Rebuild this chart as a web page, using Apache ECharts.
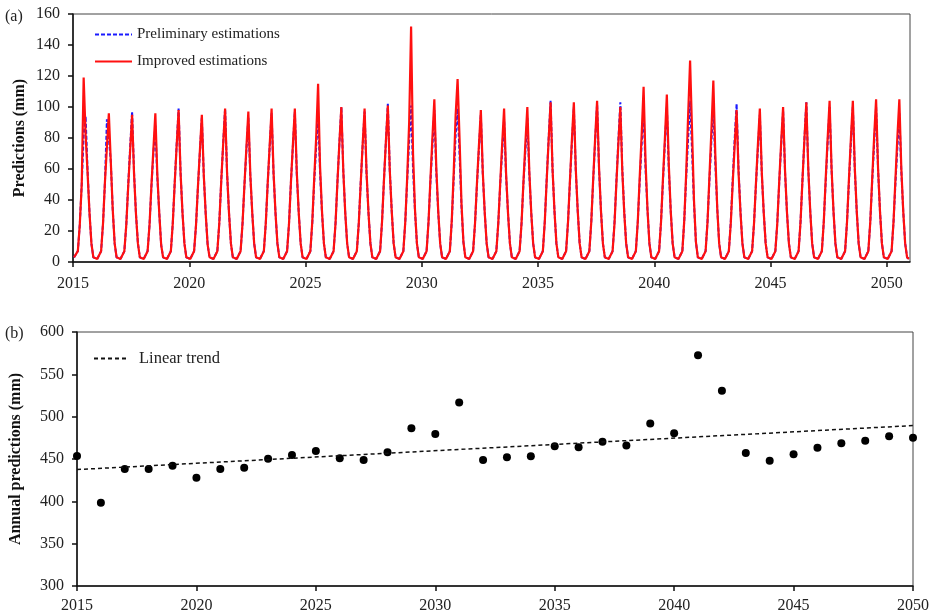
<!DOCTYPE html>
<html>
<head>
<meta charset="utf-8">
<script src="https://cdn.jsdelivr.net/npm/echarts@6/dist/echarts.min.js"></script>
<style>
  html, body { margin: 0; padding: 0; background: #fff; }
  #main { width: 934px; height: 616px; }
</style>
</head>
<body>
<div id="main"></div>
<script>
var years = [2015, 2016, 2017, 2018, 2019, 2020, 2021, 2022, 2023, 2024, 2025, 2026,
    2027, 2028, 2029, 2030, 2031, 2032, 2033, 2034, 2035, 2036, 2037, 2038,
    2039, 2040, 2041, 2042, 2043, 2044, 2045, 2046, 2047, 2048, 2049, 2050];
var xTicks = [2015, 2020, 2025, 2030, 2035, 2040, 2045, 2050];

// monthly values (Jan..Dec) per year
var improved = [
    [3, 3, 7, 24, 50, 119, 82, 58, 32, 12, 3, 2],
    [2, 3, 7, 25, 52, 74, 96, 65, 34, 12, 3, 2],
    [2, 3, 7, 24, 49, 72, 95, 57, 31, 12, 3, 2],
    [2, 3, 7, 24, 50, 73, 96, 57, 32, 11, 3, 2],
    [2, 3, 7, 25, 51, 75, 98, 58, 32, 12, 3, 2],
    [2, 3, 7, 24, 49, 72, 95, 56, 31, 11, 3, 2],
    [2, 3, 7, 25, 52, 76, 99, 58, 32, 12, 3, 2],
    [2, 3, 7, 25, 50, 74, 97, 57, 32, 12, 3, 2],
    [2, 3, 7, 25, 51, 75, 99, 58, 32, 12, 3, 2],
    [2, 3, 7, 25, 52, 76, 99, 58, 32, 12, 3, 2],
    [2, 3, 7, 26, 54, 80, 115, 62, 33, 12, 3, 2],
    [2, 3, 7, 25, 52, 77, 100, 59, 32, 12, 3, 2],
    [2, 3, 7, 25, 51, 76, 99, 58, 32, 12, 3, 2],
    [2, 3, 7, 26, 53, 78, 101, 59, 33, 12, 3, 2],
    [2, 3, 7, 26, 55, 90, 152, 70, 34, 12, 3, 2],
    [2, 3, 7, 26, 54, 80, 105, 61, 33, 12, 3, 2],
    [2, 3, 7, 27, 58, 95, 118, 80, 38, 13, 3, 2],
    [2, 3, 7, 25, 51, 75, 98, 58, 32, 12, 3, 2],
    [2, 3, 7, 25, 51, 76, 99, 58, 32, 12, 3, 2],
    [2, 3, 7, 25, 52, 77, 100, 59, 32, 12, 3, 2],
    [2, 3, 7, 26, 53, 79, 103, 60, 33, 12, 3, 2],
    [2, 3, 7, 26, 53, 79, 103, 60, 33, 12, 3, 2],
    [2, 3, 7, 26, 54, 80, 104, 61, 33, 12, 3, 2],
    [2, 3, 7, 25, 52, 77, 100, 59, 32, 12, 3, 2],
    [2, 3, 7, 26, 55, 82, 113, 65, 34, 12, 3, 2],
    [2, 3, 7, 26, 54, 80, 108, 63, 33, 12, 3, 2],
    [2, 3, 7, 27, 58, 95, 130, 85, 40, 13, 3, 2],
    [2, 3, 7, 26, 56, 85, 117, 70, 35, 12, 3, 2],
    [2, 3, 7, 25, 51, 75, 98, 58, 32, 12, 3, 2],
    [2, 3, 7, 25, 51, 76, 99, 58, 32, 12, 3, 2],
    [2, 3, 7, 25, 52, 77, 100, 59, 32, 12, 3, 2],
    [2, 3, 7, 26, 53, 79, 103, 60, 33, 12, 3, 2],
    [2, 3, 7, 26, 54, 80, 104, 61, 33, 12, 3, 2],
    [2, 3, 7, 26, 54, 80, 104, 61, 33, 12, 3, 2],
    [2, 3, 7, 26, 54, 81, 105, 61, 33, 12, 3, 2],
    [2, 3, 7, 26, 54, 81, 105, 61, 33, 12, 3, 2]
];
var preliminary = [
    [3, 3, 7, 24, 50, 82, 94, 60, 32, 12, 3, 2],
    [2, 3, 7, 25, 52, 92, 80, 65, 34, 12, 3, 2],
    [2, 3, 7, 24, 50, 74, 97, 58, 31, 12, 3, 2],
    [2, 3, 7, 24, 49, 70, 88, 55, 32, 11, 3, 2],
    [2, 3, 7, 25, 51, 76, 99, 58, 32, 12, 3, 2],
    [2, 3, 7, 24, 49, 71, 93, 56, 31, 11, 3, 2],
    [2, 3, 7, 25, 52, 76, 99, 58, 32, 12, 3, 2],
    [2, 3, 7, 25, 50, 72, 93, 56, 32, 12, 3, 2],
    [2, 3, 7, 25, 51, 74, 96, 57, 32, 12, 3, 2],
    [2, 3, 7, 25, 52, 75, 97, 57, 32, 12, 3, 2],
    [2, 3, 7, 25, 52, 74, 96, 58, 32, 12, 3, 2],
    [2, 3, 7, 25, 52, 77, 100, 59, 32, 12, 3, 2],
    [2, 3, 7, 25, 51, 75, 97, 57, 32, 12, 3, 2],
    [2, 3, 7, 26, 53, 78, 102, 59, 33, 12, 3, 2],
    [2, 3, 7, 26, 53, 78, 101, 60, 33, 12, 3, 2],
    [2, 3, 7, 26, 52, 75, 98, 58, 32, 12, 3, 2],
    [2, 3, 7, 26, 54, 82, 99, 70, 36, 13, 3, 2],
    [2, 3, 7, 25, 50, 73, 95, 57, 32, 12, 3, 2],
    [2, 3, 7, 25, 50, 71, 92, 56, 32, 12, 3, 2],
    [2, 3, 7, 25, 51, 72, 93, 57, 32, 12, 3, 2],
    [2, 3, 7, 26, 54, 80, 104, 60, 33, 12, 3, 2],
    [2, 3, 7, 26, 52, 77, 100, 59, 33, 12, 3, 2],
    [2, 3, 7, 26, 53, 78, 102, 60, 33, 12, 3, 2],
    [2, 3, 7, 26, 53, 79, 103, 60, 33, 12, 3, 2],
    [2, 3, 7, 26, 52, 76, 98, 60, 34, 12, 3, 2],
    [2, 3, 7, 26, 52, 77, 100, 60, 33, 12, 3, 2],
    [2, 3, 7, 27, 55, 80, 104, 72, 38, 13, 3, 2],
    [2, 3, 7, 26, 53, 78, 101, 64, 35, 12, 3, 2],
    [2, 3, 7, 26, 53, 79, 102, 60, 33, 12, 3, 2],
    [2, 3, 7, 25, 50, 73, 95, 57, 32, 12, 3, 2],
    [2, 3, 7, 25, 51, 75, 98, 58, 32, 12, 3, 2],
    [2, 3, 7, 26, 53, 79, 103, 60, 33, 12, 3, 2],
    [2, 3, 7, 26, 52, 77, 100, 60, 33, 12, 3, 2],
    [2, 3, 7, 26, 52, 77, 100, 60, 33, 12, 3, 2],
    [2, 3, 7, 26, 52, 77, 100, 60, 33, 12, 3, 2],
    [2, 3, 7, 26, 51, 74, 96, 59, 33, 12, 3, 2]
];

// annual totals
var annual = [453.6, 398.3, 438.2, 438.2, 442.1, 427.9, 438.2, 439.7, 450.4, 454.7,
    459.5, 450.8, 448.8, 457.9, 486.3, 479.6, 516.7, 448.8, 452.0, 453.2,
    465.0, 463.8, 470.5, 465.8, 491.9, 480.4, 572.4, 530.5, 457.1, 448.0,
    455.5, 463.4, 468.6, 471.7, 476.8, 475.2];
var trendYears = [2015, 2050];
var trendValues = [437.5, 489.5];

var font = "'Liberation Serif', 'DejaVu Serif', serif";

function monthly(rows) {
    var out = [];
    rows.forEach(function (row, i) {
        row.forEach(function (v, m) {
            out.push([years[i] + (m + 0.5) / 12, v]);
        });
    });
    return out;
}

var chartDom = document.getElementById('main');
var myChart = echarts.init(chartDom);

var axisText = { color: '#222', fontSize: 16, fontFamily: font };
var lineBlack = { color: '#111', width: 1.5 };

var option = {
    animation: false,
    title: [
        { text: '(a)', left: 0, top: 4, textStyle: { color: '#222', fontSize: 16, fontWeight: 'normal', fontFamily: font } },
        { text: '(b)', left: 0, top: 321, textStyle: { color: '#222', fontSize: 16, fontWeight: 'normal', fontFamily: font } }
    ],
    legend: [
        {
            data: ['Preliminary estimations', 'Improved estimations'],
            orient: 'vertical',
            left: 89, top: 22,
            itemWidth: 37, itemHeight: 14, itemGap: 12,
            itemStyle: { opacity: 0 },
            textStyle: { color: '#222', fontSize: 15, fontFamily: font }
        },
        {
            data: ['Linear trend'],
            left: 88, top: 345,
            itemWidth: 35, itemHeight: 14,
            itemStyle: { opacity: 0 },
            textStyle: { color: '#222', fontSize: 16.5, fontFamily: font, padding: [0, 0, 0, 5] }
        }
    ],
    grid: [
        { left: 73, top: 14, right: 24, height: 248, show: true, borderColor: '#444', borderWidth: 1 },
        { left: 73, top: 332, right: 21, height: 254, show: true, borderColor: '#444', borderWidth: 1 }
    ],
    xAxis: [
        {
            gridIndex: 0, type: 'value', min: 2015, max: 2051,
            splitLine: { show: false },
            axisLine: { lineStyle: lineBlack },
            axisTick: { customValues: xTicks, length: 5, lineStyle: lineBlack },
            axisLabel: Object.assign({ customValues: xTicks, margin: 14, formatter: function (v) { return String(v); } }, axisText)
        },
        {
            gridIndex: 1, type: 'value', min: 2015, max: 2050, interval: 5,
            splitLine: { show: false },
            axisLine: { lineStyle: lineBlack },
            axisTick: { length: 5, lineStyle: lineBlack },
            axisLabel: Object.assign({ margin: 12, formatter: function (v) { return String(v); } }, axisText)
        }
    ],
    yAxis: [
        {
            gridIndex: 0, type: 'value', min: 0, max: 160, interval: 20,
            name: 'Predictions (mm)', nameLocation: 'middle', nameGap: 45,
            nameMoveOverlap: false,
            nameTextStyle: { color: '#111', fontSize: 16, fontWeight: 'bold', fontFamily: font },
            splitLine: { show: false },
            axisLine: { show: true, lineStyle: lineBlack },
            axisTick: { show: true, length: 5, lineStyle: lineBlack },
            axisLabel: Object.assign({ margin: 13 }, axisText)
        },
        {
            gridIndex: 1, type: 'value', min: 300, max: 600, interval: 50,
            name: 'Annual predictions (mm)', nameLocation: 'middle', nameGap: 53,
            nameMoveOverlap: false,
            nameTextStyle: { color: '#111', fontSize: 16, fontWeight: 'bold', fontFamily: font },
            splitLine: { show: false },
            axisLine: { show: true, lineStyle: lineBlack },
            axisTick: { show: true, length: 5, lineStyle: lineBlack },
            axisLabel: Object.assign({ margin: 13 }, axisText)
        }
    ],
    series: [
        {
            name: 'Preliminary estimations', type: 'line',
            xAxisIndex: 0, yAxisIndex: 0,
            symbol: 'none', color: '#1a1aff',
            lineStyle: { color: '#1a1aff', width: 2, type: [4, 2] },
            data: monthly(preliminary), z: 2
        },
        {
            name: 'Improved estimations', type: 'line',
            xAxisIndex: 0, yAxisIndex: 0,
            symbol: 'none', color: '#ff1010',
            lineStyle: { color: '#ff1010', width: 2.2 },
            data: monthly(improved), z: 3
        },
        {
            name: 'Annual', type: 'scatter',
            xAxisIndex: 1, yAxisIndex: 1,
            symbolSize: 8, color: '#000',
            itemStyle: { opacity: 1 },
            data: years.map(function (y, i) { return [y, annual[i]]; })
        },
        {
            name: 'Linear trend', type: 'line',
            xAxisIndex: 1, yAxisIndex: 1,
            symbol: 'none', color: '#111',
            lineStyle: { color: '#111', width: 1.5, type: [4, 3] },
            data: trendYears.map(function (y, i) { return [y, trendValues[i]]; })
        }
    ]
};

if (option && typeof option === "object") {
    myChart.setOption(option);
}
</script>
</body>
</html>
